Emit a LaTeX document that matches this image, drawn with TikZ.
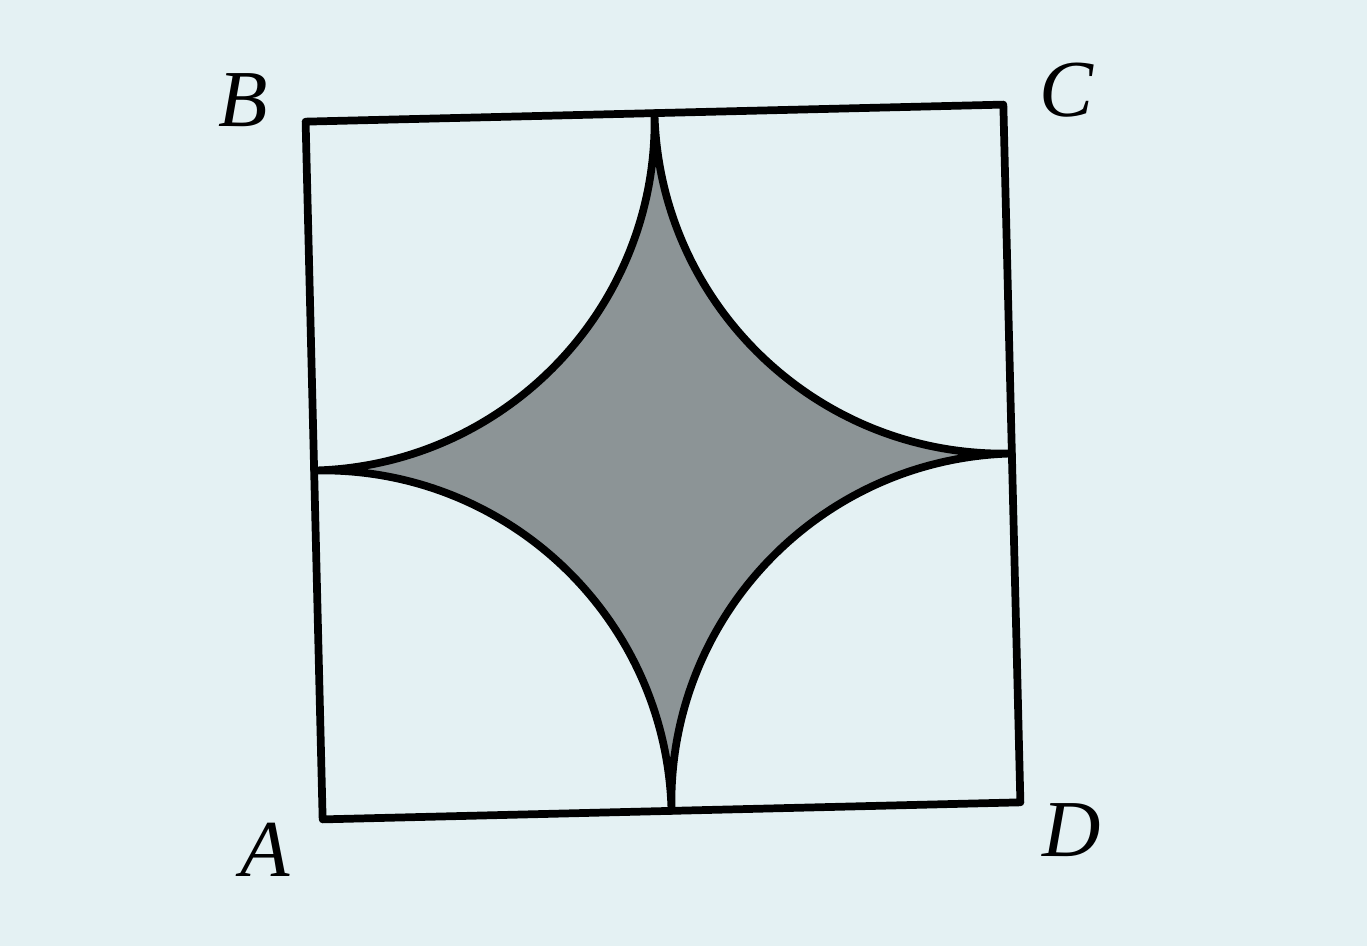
\documentclass[tikz,border=0pt]{standalone}
\usepackage{fontspec}
\setmainfont{Liberation Serif}
\usepackage{tikz}
\definecolor{paper}{HTML}{E4F1F3}
\definecolor{shade}{HTML}{8C9496}

\begin{document}
\begin{tikzpicture}[line join=round,
        edge/.style={draw=black,line width=2.2pt},
        vlabel/.style={font=\fontsize{23}{26}\selectfont\itshape}]
  \fill[paper] (0,0) rectangle (13.67,9.46);
  \useasboundingbox (0,0) rectangle (13.67,9.46);
  \begin{scope}[shift={(6.63,4.84)},rotate=1.4]
    \coordinate (A) at (-3.49,-3.49);
    \coordinate (B) at (-3.49,3.49);
    \coordinate (C) at (3.49,3.49);
    \coordinate (D) at (3.49,-3.49);
    \coordinate (T) at (0,3.49);
    % shaded star from four quarter circles
    \filldraw[fill=shade,edge] (T) arc[start angle=0,end angle=-90,radius=3.49]
      arc[start angle=90,end angle=0,radius=3.49]
      arc[start angle=180,end angle=90,radius=3.49]
      arc[start angle=270,end angle=180,radius=3.49] -- cycle;
    \draw[edge] (A) -- (B) -- (C) -- (D) -- cycle;
  \end{scope}
  \node[vlabel] (lb) at (2.43,8.46) {B};
  \node[vlabel] (lc) at (10.66,8.56) {C};
  \node[vlabel] (la) at (2.65,0.96) {A};
  \node[vlabel] (ld) at (10.72,1.16) {D};
\end{tikzpicture}
\end{document}
